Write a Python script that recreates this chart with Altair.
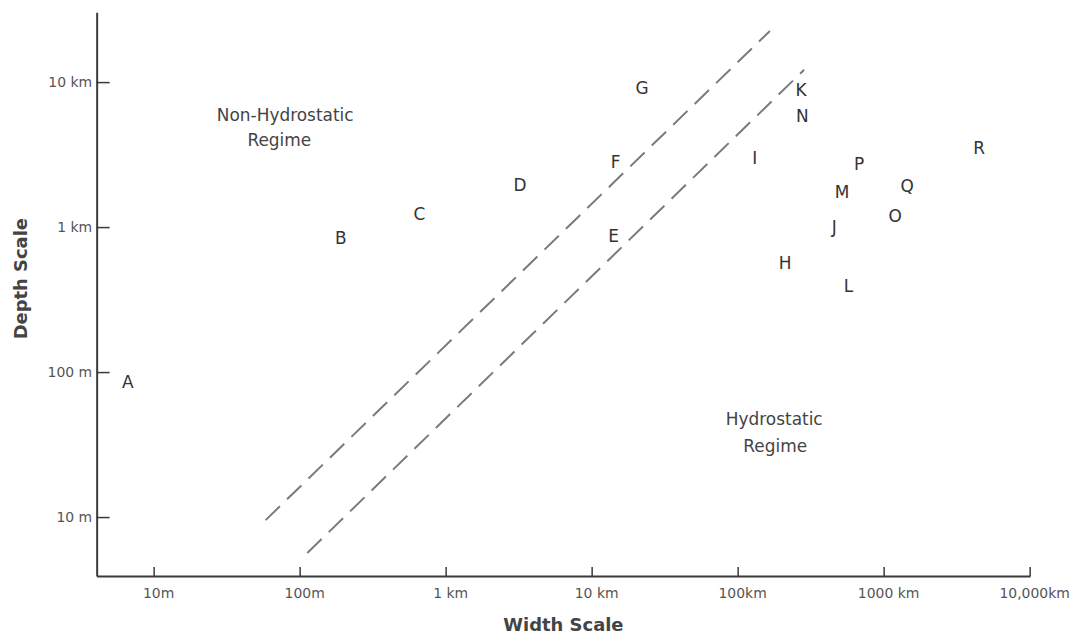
import json
import altair as alt
import pandas as pd

# ---- data (metres) ----
letters = ["A", "B", "C", "D", "E", "F", "G", "H", "I", "J",
           "K", "L", "M", "N", "O", "P", "Q", "R"]
letter_width_m = [6.6, 190, 655, 3200, 14000, 14500, 22000, 210000, 130000, 455000,
                  270000, 570000, 515000, 275000, 1190000, 675000, 1440000, 4470000]
letter_depth_m = [85, 840, 1230, 1920, 860, 2800, 9000, 560, 2950, 1000,
                  8800, 390, 1720, 5800, 1180, 2720, 1890, 3500]

line_id = ["upper", "upper", "lower", "lower"]
line_width_m = [58, 165000, 112, 283000]
line_depth_m = [9.6, 22700, 5.7, 12250]

region_text = ["Non-Hydrostatic", "Regime", "Hydrostatic", "Regime"]
region_width_m = [79, 72, 176600, 179500]
region_depth_m = [5915, 3980, 47.4, 30.9]

x_ticks = [10, 100, 1000, 10000, 100000, 1000000, 10000000]
x_tick_labels = ["10m", "100m", "1 km", "10 km", "100km", "1000 km", "10,000km"]
y_ticks = [10, 100, 1000, 10000]
y_tick_labels = ["10 m", "100 m", "1 km", "10 km"]

x_domain = [4.04, 10000000]
y_domain = [3.95, 30600]

FONT = "DejaVu Sans"
W, H = 937, 566

letters_df = pd.DataFrame({"label": letters, "w": letter_width_m, "d": letter_depth_m})
lines_df = pd.DataFrame({"line": line_id, "w": line_width_m, "d": line_depth_m})
region_df = pd.DataFrame({"label": region_text, "w": region_width_m, "d": region_depth_m})
xt_df = pd.DataFrame({"w": x_ticks})
yt_df = pd.DataFrame({"d": y_ticks})

x_scale = alt.Scale(type="log", domain=x_domain, nice=False, zero=False)
y_scale = alt.Scale(type="log", domain=y_domain, nice=False, zero=False)

x_axis = alt.Axis(
    values=x_ticks,
    labelExpr=f"{json.dumps(x_tick_labels)}[indexof({json.dumps(x_ticks)}, datum.value)]",
    ticks=False, tickSize=0, grid=False,
    domainColor="#3a3a3a", domainWidth=2,
    labelFont=FONT, labelFontSize=14, labelColor="#555555",
    labelPadding=11, labelOffset=4, labelFlush=False, labelOverlap=False,
    title="Width Scale", titleFont=FONT, titleFontSize=18, titleFontWeight="bold",
    titleColor="#444444", titleX=468, titleY=50, titleBaseline="middle", titleAlign="center",
)
y_axis = alt.Axis(
    values=y_ticks,
    labelExpr=f"{json.dumps(y_tick_labels)}[indexof({json.dumps(y_ticks)}, datum.value)]",
    ticks=False, tickSize=0, grid=False,
    domainColor="#3a3a3a", domainWidth=2,
    labelFont=FONT, labelFontSize=14, labelColor="#555555",
    labelPadding=5, labelFlush=False, labelOverlap=False,
    title="Depth Scale", titleFont=FONT, titleFontSize=18, titleFontWeight="bold",
    titleColor="#444444", titleX=-75, titleY=267, titleAngle=-90,
    titleBaseline="middle", titleAlign="center",
)

X = alt.X("w:Q", scale=x_scale, axis=x_axis)
Y = alt.Y("d:Q", scale=y_scale, axis=y_axis)

dashes = alt.Chart(lines_df).mark_line(
    strokeDash=[20, 10], color="#7a7a7a", strokeWidth=2
).encode(x=X, y=Y, detail="line:N")

letter_marks = alt.Chart(letters_df).mark_text(
    font=FONT, fontSize=17, color="#333333", align="center", baseline="middle"
).encode(x=X, y=Y, text="label:N")

region_marks = alt.Chart(region_df).mark_text(
    font=FONT, fontSize=17, color="#444444", align="center", baseline="middle"
).encode(x=X, y=Y, text="label:N")

x_tick_marks = alt.Chart(xt_df).mark_rule(color="#3a3a3a", strokeWidth=1.5).encode(
    x=alt.X("w:Q", scale=x_scale, axis=x_axis),
    y=alt.value(H), y2=alt.value(H - 9),
)
y_tick_marks = alt.Chart(yt_df).mark_rule(color="#3a3a3a", strokeWidth=1.5).encode(
    y=alt.Y("d:Q", scale=y_scale, axis=y_axis),
    x=alt.value(0), x2=alt.value(13),
)

chart = alt.layer(
    dashes, x_tick_marks, y_tick_marks, region_marks, letter_marks
).properties(
    width=W, height=H,
    autosize=alt.AutoSizeParams(type="none"),
    padding={"left": 89, "top": 3, "right": 40, "bottom": 61},
    background="white",
).configure_view(stroke=None)

chart.save("out.html", embed_options={"renderer": "svg", "actions": False})
